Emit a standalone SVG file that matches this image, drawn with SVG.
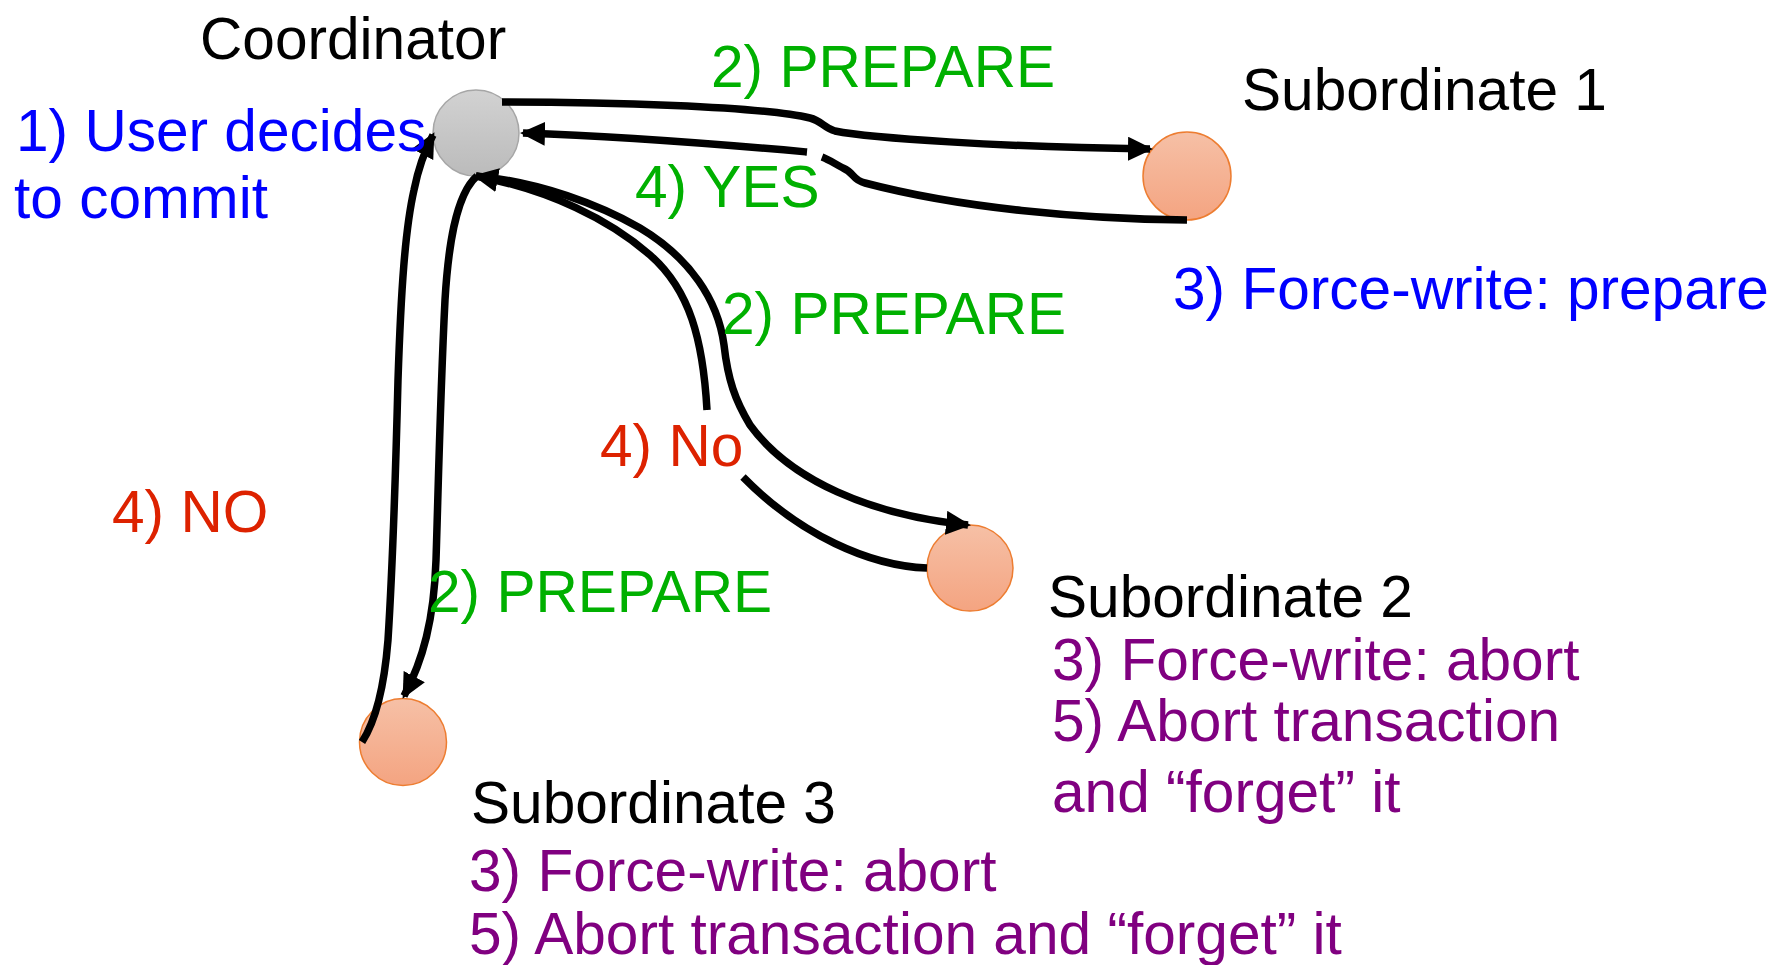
<svg xmlns="http://www.w3.org/2000/svg" width="1775" height="965" viewBox="0 0 1775 965">
<style>
text{font-family:"Liberation Sans",Arial,sans-serif;font-size:58.6px}
.k{fill:#000}.b{fill:#0000FF}.g{fill:#00B000}.r{fill:#DD2200}.p{fill:#800080}
.ln{fill:none;stroke:#000;stroke-width:7.5;stroke-linecap:butt}
.sub{fill:url(#og);stroke:#ED7D31;stroke-width:1.5}
</style>
<defs>
<linearGradient id="gg" x1="0" y1="0" x2="0" y2="1"><stop offset="0" stop-color="#D2D2D2"/><stop offset="1" stop-color="#BBBBBB"/></linearGradient>
<linearGradient id="og" x1="0" y1="0" x2="0" y2="1"><stop offset="0" stop-color="#F6C0A6"/><stop offset="1" stop-color="#F4A481"/></linearGradient>
<marker id="ah" markerUnits="userSpaceOnUse" markerWidth="26" markerHeight="24" refX="22" refY="12" orient="auto" viewBox="0 0 26 24"><path d="M0,0 L25,12 L0,24 z" fill="#000"/></marker>
</defs>
<rect width="1775" height="965" fill="#fff"/>
<g id="coordinator"><circle cx="476" cy="133" r="43" fill="url(#gg)" stroke="#A6A6A6" stroke-width="1.5"/></g>
<g id="sub1"><circle cx="1187" cy="176" r="44" class="sub"/></g>
<g id="sub2"><circle cx="970" cy="568" r="43" class="sub"/></g>
<g id="sub3"><circle cx="403" cy="742" r="43.5" class="sub"/></g>
<g id="connectors">
<path class="ln" marker-end="url(#ah)" d="M502,102 C600,102 760,106 810,118 C822,121 824,128 835,131 C870,138 1000,147 1150,149"/>
<path class="ln" d="M1187,220 C1080,219 960,208 865,183 C852,180 855,173 843,168 C835,164 830,160 822,157"/>
<path class="ln" marker-end="url(#ah)" d="M807,152 C740,146 640,137 523,133"/>
<path class="ln" marker-end="url(#ah)" d="M476,176 C540,182 600,205 640,228 C690,258 718,300 724,345 C728,380 735,400 750,425 C790,480 870,515 968,525"/>
<path class="ln" d="M927,568 C870,566 800,535 743,477"/>
<path class="ln" marker-end="url(#ah)" d="M707,410 C703,340 690,290 650,255 C610,220 550,190 476,176"/>
<path class="ln" marker-end="url(#ah)" d="M362,742 C375,722 384,690 388,640 C393,560 396,460 398,380 C401,290 405,230 414,190 C419,165 425,150 433,135"/>
<path class="ln" marker-end="url(#ah)" d="M477,176 C455,195 448,250 445,300 C440,400 438,500 436,560 C434,620 423,660 404,696"/>
</g>
<g id="labels">
<text x="200" y="59" class="k">Coordinator</text>
<text x="16" y="151" class="b">1) User decides</text>
<text x="14" y="218" class="b">to commit</text>
<text x="711" y="87" class="g">2) PREPARE</text>
<text x="1242" y="110" class="k">Subordinate 1</text>
<text x="635" y="207" class="g">4) YES</text>
<text x="1173" y="309" class="b">3) Force-write: prepare</text>
<text x="722" y="334" class="g">2) PREPARE</text>
<text x="600" y="466" class="r">4) No</text>
<text x="112" y="532" class="r">4) NO</text>
<text x="428" y="612" class="g">2) PREPARE</text>
<text x="1048" y="617" class="k">Subordinate 2</text>
<text x="1052" y="680" class="p">3) Force-write: abort</text>
<text x="1052" y="741" class="p">5) Abort transaction</text>
<text x="1052" y="812" class="p">and “forget” it</text>
<text x="471" y="823" class="k">Subordinate 3</text>
<text x="469" y="891" class="p">3) Force-write: abort</text>
<text x="469" y="954" class="p">5) Abort transaction and “forget” it</text>
</g>
</svg>
